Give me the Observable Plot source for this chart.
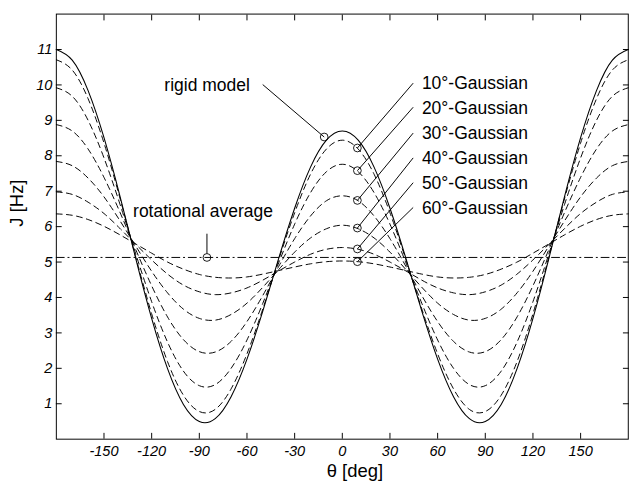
<!DOCTYPE html>
<html>
<head>
<meta charset="utf-8">
<script src="https://cdn.jsdelivr.net/npm/d3@7"></script>
<script src="https://cdn.jsdelivr.net/npm/@observablehq/plot@0.6"></script>
<style>
  html, body { margin: 0; padding: 0; background: #fff; overflow: hidden; }
  #chart { width: 641px; height: 498px; overflow: hidden; }
  #chart svg { font-family: "Liberation Sans", Arial, Helvetica, sans-serif; }
</style>
</head>
<body>
<div id="chart"></div>
<script>
// Dihedral angle θ [deg]
const theta = [-180,-170,-160,-150,-140,-130,-120,-110,-100,-90,-80,-70,-60,-50,-40,-30,-20,-10,0,
               10,20,30,40,50,60,70,80,90,100,110,120,130,140,150,160,170,180];

// J [Hz] curves
const rigidModel = [11.00,10.70,9.84,8.51,6.87,5.10,3.41,1.99,0.98,0.50,0.58,1.20,2.26,3.62,5.11,6.52,7.68,8.44,8.70,
                    8.44,7.68,6.52,5.11,3.62,2.26,1.20,0.58,0.50,0.98,1.99,3.41,5.10,6.87,8.51,9.84,10.70,11.00];
const gauss10 = [10.71,10.42,9.61,8.36,6.81,5.14,3.54,2.19,1.24,0.78,0.84,1.42,2.41,3.68,5.07,6.39,7.48,8.19,8.44,
                 8.19,7.48,6.39,5.07,3.68,2.41,1.42,0.84,0.78,1.24,2.19,3.54,5.14,6.81,8.36,9.61,10.42,10.71];
const gauss20 = [9.92,9.68,9.00,7.94,6.64,5.23,3.88,2.74,1.92,1.51,1.54,2.00,2.80,3.84,4.98,6.07,6.96,7.55,7.76,
                 7.55,6.96,6.07,4.98,3.84,2.80,2.00,1.54,1.51,1.92,2.74,3.88,5.23,6.64,7.94,9.00,9.68,9.92];
const gauss30 = [8.88,8.70,8.19,7.39,6.41,5.35,4.33,3.45,2.81,2.47,2.46,2.76,3.32,4.06,4.88,5.66,6.30,6.73,6.87,
                 6.73,6.30,5.66,4.88,4.06,3.32,2.76,2.46,2.47,2.81,3.45,4.33,5.35,6.41,7.39,8.19,8.70,8.88];
const gauss40 = [7.84,7.72,7.37,6.84,6.17,5.45,4.74,4.13,3.67,3.41,3.36,3.52,3.84,4.29,4.79,5.28,5.68,5.94,6.04,
                 5.94,5.68,5.28,4.79,4.29,3.84,3.52,3.36,3.41,3.67,4.13,4.74,5.45,6.17,6.84,7.37,7.72,7.84];
const gauss50 = [6.98,6.91,6.69,6.37,5.95,5.50,5.06,4.66,4.35,4.16,4.08,4.13,4.27,4.49,4.75,5.00,5.22,5.36,5.41,
                 5.36,5.22,5.00,4.75,4.49,4.27,4.13,4.08,4.16,4.35,4.66,5.06,5.50,5.95,6.37,6.69,6.91,6.98];
const gauss60 = [6.36,6.32,6.20,6.01,5.77,5.51,5.25,5.00,4.80,4.65,4.57,4.55,4.58,4.66,4.76,4.86,4.95,5.01,5.03,
                 5.01,4.95,4.86,4.76,4.66,4.58,4.55,4.57,4.65,4.80,5.00,5.25,5.51,5.77,6.01,6.20,6.32,6.36];
const rotationalAverage = [5.13];

const gaussNames = ["10°-Gaussian","20°-Gaussian","30°-Gaussian","40°-Gaussian","50°-Gaussian","60°-Gaussian"];
const gaussSeries = [gauss10, gauss20, gauss30, gauss40, gauss50, gauss60];

// Marked points (circles) on each curve
const markerTheta = [-11.4, -85.2, 9.5, 9.5, 9.5, 9.5, 9.5, 9.5];
const markerJ     = [8.53, 5.13, 8.22, 7.58, 6.74, 5.96, 5.37, 5.01];

// Annotation labels (text, anchor θ, anchor J) and their leader-line start points
const labelText  = ["rigid model", "rotational average", ...gaussNames];
const labelTheta = [-112.0, -131.7, 50.1, 50.1, 50.1, 50.1, 50.1, 50.1];
const labelJ     = [9.98, 6.44, 10.03, 9.33, 8.63, 7.92, 7.22, 6.52];
const leaderTheta = [-50.1, -85.2, 44.6, 44.6, 44.6, 44.6, 44.6, 44.6];
const leaderJ     = [10.01, 5.80, 10.05, 9.37, 8.64, 7.94, 7.24, 6.54];
const leaderEndTheta = [-11.4, -85.2, 9.5, 9.5, 9.5, 9.5, 9.5, 9.5];
const leaderEndJ     = [8.53, 5.24, 8.22, 7.58, 6.74, 5.96, 5.37, 5.01];

const xTicks = [-150,-120,-90,-60,-30,0,30,60,90,120,150];
const yTicks = [1,2,3,4,5,6,7,8,9,10,11];

// Build tables
const rigidRows = theta.map((t, i) => ({theta: t, J: rigidModel[i]}));
const gaussRows = gaussSeries.flatMap((s, k) => theta.map((t, i) => ({series: gaussNames[k], theta: t, J: s[i]})));
const markers = markerTheta.map((t, i) => ({theta: t, J: markerJ[i]}));
const labels = labelText.map((s, i) => ({text: s, theta: labelTheta[i], J: labelJ[i]}));
const leaders = leaderTheta.map((t, i) => ({x1: t, y1: leaderJ[i], x2: leaderEndTheta[i], y2: leaderEndJ[i]}));

const blank = () => "";
const W = 660, H = 498;
const chart = Plot.plot({
  width: W,
  height: H,
  marginLeft: 57.5,
  marginRight: W - 646.4,
  marginTop: 14,
  marginBottom: H - 451.7,
  style: {fontFamily: '"Liberation Sans", Arial, Helvetica, sans-serif', fontSize: "15px", background: "#fff", color: "#000"},
  x: {domain: [-180, 180]},
  y: {domain: [0, 12]},
  marks: [
    Plot.frame({stroke: "#000", strokeWidth: 1}),
    Plot.ruleY(rotationalAverage, {stroke: "#000", strokeWidth: 1, strokeDasharray: "9,3,2,3"}),
    Plot.line(gaussRows, {x: "theta", y: "J", z: "series", curve: "natural", stroke: "#000", strokeWidth: 1, strokeDasharray: "6,4.5"}),
    Plot.line(rigidRows, {x: "theta", y: "J", curve: "natural", stroke: "#000", strokeWidth: 1.1}),
    Plot.link(leaders, {x1: "x1", y1: "y1", x2: "x2", y2: "y2", stroke: "#000", strokeWidth: 1}),
    Plot.dot(markers, {x: "theta", y: "J", r: 4, stroke: "#000", fill: "none", strokeWidth: 0.9}),
    Plot.text(labels, {x: "theta", y: "J", text: "text", textAnchor: "start", lineAnchor: "middle", fontSize: 18, fill: "#000"}),
    Plot.axisX(xTicks, {anchor: "bottom", tickSize: -6, tickPadding: 13, tickFormat: d => String(d), label: null, fontSize: 15, fontStyle: "italic"}),
    Plot.axisX(xTicks, {anchor: "top", tickSize: -6, tickFormat: blank, label: null}),
    Plot.axisY(yTicks, {anchor: "left", tickSize: -6, tickPadding: 10, tickFormat: d => String(d), label: null, fontSize: 15, fontStyle: "italic"}),
    Plot.axisY(yTicks, {anchor: "right", tickSize: -6, tickFormat: blank, label: null}),
    Plot.text(["θ [deg]"], {frameAnchor: "bottom", dy: 33, dx: 13, lineAnchor: "middle", fontSize: 19, fill: "#000"}),
    Plot.text(["J [Hz]"], {frameAnchor: "left", dx: -40, rotate: -90, lineAnchor: "middle", fontSize: 19, fill: "#000"})
  ]
});
document.getElementById("chart").appendChild(chart);
</script>
</body>
</html>
